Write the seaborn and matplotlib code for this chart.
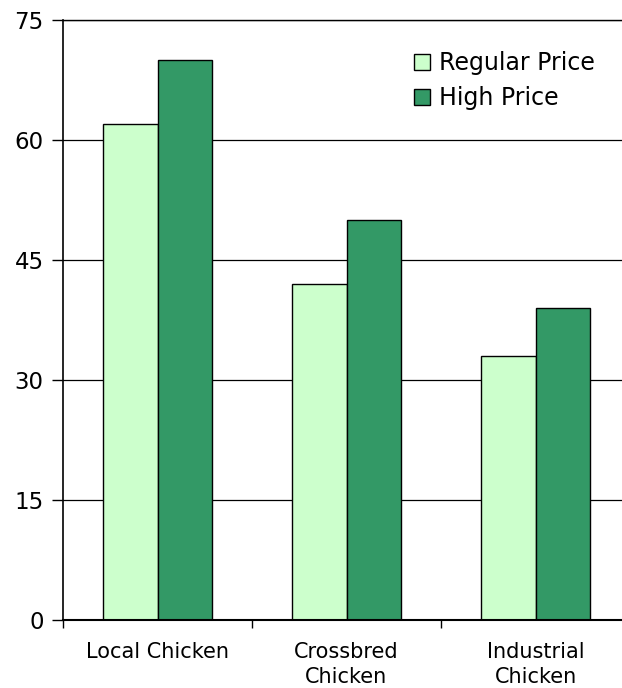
import matplotlib
matplotlib.use("Agg")
import matplotlib.pyplot as plt
import seaborn as sns
import pandas as pd
from matplotlib.ticker import FixedLocator

categories = ["Local Chicken", "Crossbred\nChicken", "Industrial\nChicken"]
series = ["Regular Price", "High Price"]
regular_price = [62, 42, 33]
high_price = [70, 50, 39]
y_ticks = [0, 15, 30, 45, 60, 75]
colors = {"Regular Price": "#CCFFCC", "High Price": "#339966"}

df = pd.DataFrame({
    "category": categories * 2,
    "series": [series[0]] * 3 + [series[1]] * 3,
    "value": regular_price + high_price,
})

sns.set_theme(style="white")
plt.rcParams["font.family"] = ["DejaVu Sans"]
plt.rcParams["text.color"] = "black"
plt.rcParams["xtick.color"] = "black"
plt.rcParams["ytick.color"] = "black"
plt.rcParams["axes.labelcolor"] = "black"

W, H = 622, 688
fig = plt.figure(figsize=(W / 100, H / 100), dpi=100)
ax = fig.add_axes([63 / W, 68 / H, 567 / W, 600 / H])

sns.barplot(data=df, x="category", y="value", hue="series", order=categories,
            hue_order=series, palette=colors, saturation=1, width=0.58,
            edgecolor="black", linewidth=1.0, ax=ax, legend=True)

ax.set_xlim(-0.5, 2.5)
ax.set_ylim(0, 75)
ax.set_yticks(y_ticks)
ax.set_yticklabels([str(v) for v in y_ticks], fontsize=16.5)
ax.yaxis.grid(True, color="black", linewidth=0.9)
ax.set_axisbelow(True)
ax.set_xlabel("")
ax.set_ylabel("")

ax.set_xticks(range(3))
ax.set_xticklabels(categories, fontsize=15, linespacing=1.3)
ax.xaxis.set_minor_locator(FixedLocator([-0.5, 0.5, 1.5]))
ax.tick_params(axis="x", which="major", length=0, pad=16, colors="black")
ax.tick_params(axis="x", which="minor", length=6, width=1, color="black", bottom=True)
ax.tick_params(axis="y", which="major", length=8, width=1, color="black",
               pad=6, left=True, labelcolor="black")

for s in ["left", "bottom", "top"]:
    ax.spines[s].set_visible(True)
    ax.spines[s].set_color("black")
ax.spines["left"].set_linewidth(1.2)
ax.spines["bottom"].set_linewidth(1.5)
ax.spines["top"].set_linewidth(1.0)
ax.spines["right"].set_visible(False)

leg = ax.legend(loc="upper left", bbox_to_anchor=(405 / W, 1 - 42 / H),
                bbox_transform=fig.transFigure, frameon=False, fontsize=17,
                handlelength=0.65, handleheight=0.65, handletextpad=0.4,
                labelspacing=0.45, borderaxespad=0)
for h in leg.legend_handles:
    h.set_edgecolor("black")
    h.set_linewidth(1.0)
for t in leg.get_texts():
    t.set_color("black")

fig.savefig("out.png", dpi=100)
